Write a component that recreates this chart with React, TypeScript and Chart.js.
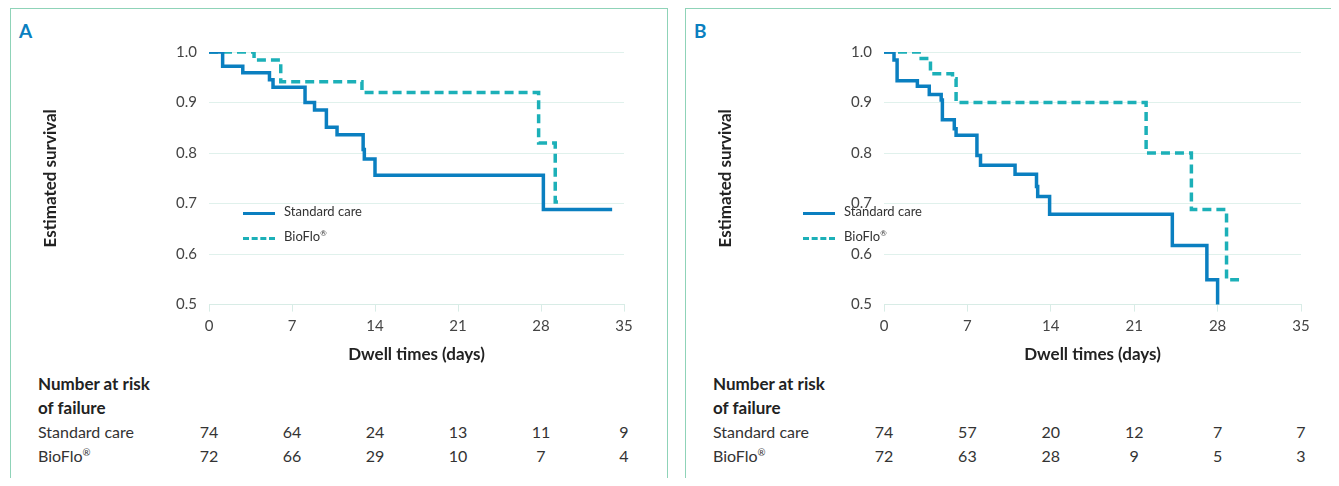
import React from 'react';
import Chart from 'chart.js/auto';

const xTicks = [0, 7, 14, 21, 28, 35];
const yTicks = [0.5, 0.6, 0.7, 0.8, 0.9, 1.0];

// panel A
const stdA_days = [0, 1.15, 2.85, 5.1, 5.4, 8.1, 8.9, 9.9, 10.8, 13.0, 13.1, 14.0, 28.2, 34];
const stdA_surv = [1.0, 0.972, 0.959, 0.945, 0.93, 0.9, 0.885, 0.851, 0.836, 0.807, 0.788, 0.756, 0.688, 0.688];
const bioA_days = [0, 3.8, 6.05, 12.9, 27.8, 29.2, 29.8];
const bioA_surv = [1.0, 0.984, 0.941, 0.92, 0.82, 0.703, 0.703];
const riskStdA = [74, 64, 24, 13, 11, 9];
const riskBioA = [72, 66, 29, 10, 7, 4];

// panel B
const stdB_days = [0, 0.84, 1.1, 2.8, 3.8, 4.8, 4.9, 5.9, 6.05, 7.8, 8.1, 11.0, 12.8, 12.9, 13.9, 24.2, 27.1, 28.0];
const stdB_surv = [1.0, 0.984, 0.943, 0.932, 0.916, 0.905, 0.866, 0.848, 0.835, 0.795, 0.776, 0.758, 0.734, 0.714, 0.679, 0.617, 0.549, 0.46];
const bioB_days = [0, 2.95, 3.9, 5.75, 6.05, 22.0, 25.8, 28.75, 29.8];
const bioB_surv = [1.0, 0.987, 0.957, 0.947, 0.9, 0.8, 0.688, 0.549, 0.549];
const riskStdB = [74, 57, 20, 12, 7, 7];
const riskBioB = [72, 63, 28, 9, 5, 3];

const STD = '#0a7fc0';
const BIO = '#1cb0b8';
const FONT = 'Lato, "Noto Sans", sans-serif';

const toPts = (d: number[], s: number[]) => d.map((x, i) => ({ x, y: s[i] }));

const PAD_L = 25;
const AXIS_W = 173;
const PAD_R = 42;

interface PanelProps {
  label: string;
  left: number;
  width: number;
  legendLeft: number;
  stdDays: number[];
  stdSurv: number[];
  bioDays: number[];
  bioSurv: number[];
  riskStd: number[];
  riskBio: number[];
}

const Panel: React.FC<PanelProps> = (p) => {
  const ref = React.useRef<HTMLCanvasElement>(null);
  React.useEffect(() => {
    if (!ref.current) return;
    const chart = new Chart(ref.current, {
      type: 'line',
      data: {
        datasets: [
          { data: toPts(p.stdDays, p.stdSurv), borderColor: STD, borderWidth: 3.5, stepped: 'before', pointRadius: 0, fill: false },
          { data: toPts(p.bioDays, p.bioSurv), borderColor: BIO, borderWidth: 3.5, borderDash: [9, 5], stepped: 'before', pointRadius: 0, fill: false },
        ],
      },
      options: {
        animation: false,
        responsive: false,
        layout: { padding: { left: PAD_L, right: PAD_R, top: 51, bottom: 0 } },
        plugins: { legend: { display: false }, tooltip: { enabled: false } },
        scales: {
          x: {
            type: 'linear', min: 0, max: 35,
            afterBuildTicks: (s: any) => { s.ticks = xTicks.map((v) => ({ value: v })); },
            grid: { drawOnChartArea: false, color: '#d8ece6', tickLength: 7 },
            border: { color: '#d8ece6' },
            ticks: { color: '#444', font: { family: FONT, size: 15 }, padding: 6 },
            title: { display: true, text: 'Dwell times (days)', color: '#222', font: { family: FONT, size: 17, weight: 'bold' }, padding: { top: 3 } },
          },
          y: {
            min: 0.5, max: 1.0,
            afterBuildTicks: (s: any) => { s.ticks = yTicks.map((v) => ({ value: v })); },
            afterFit: (s: any) => { s.width = AXIS_W; },
            grid: { color: '#e0f1ec', drawTicks: false },
            border: { display: false },
            ticks: { color: '#444', font: { family: FONT, size: 15 }, padding: 12, callback: (v: any) => Number(v).toFixed(1) },
            title: { display: true, text: 'Estimated survival', color: '#222', font: { family: FONT, size: 17, weight: 'bold' } },
          },
        },
      },
    });
    return () => chart.destroy();
  }, [p]);

  const plotW = p.width - 3 - PAD_L - AXIS_W - PAD_R;
  const tx = (v: number) => PAD_L + AXIS_W + (v / 35) * plotW;
  const txt: React.CSSProperties = { position: 'absolute', fontFamily: FONT, fontSize: 16, color: '#333', whiteSpace: 'nowrap' };
  const legLine = (dashed: boolean, color: string): React.CSSProperties => ({
    position: 'absolute', left: 0, top: 8, width: 32, height: 0,
    borderTop: `3.5px ${dashed ? 'dashed' : 'solid'} ${color}`,
  });
  const reg = <sup style={{ fontSize: '0.6em' }}>®</sup>;

  return (
    <div style={{ position: 'absolute', left: p.left, top: 8, width: p.width, height: 486, border: '1.5px solid #8fd3b8', boxSizing: 'border-box' }}>
      <div style={{ ...txt, left: 8, top: 10, fontSize: 19, fontWeight: 'bold', color: STD }}>{p.label}</div>
      <canvas ref={ref} width={p.width - 3} height={368} style={{ position: 'absolute', left: 0, top: -8 }} />
      <div style={{ position: 'absolute', left: p.legendLeft, top: 195 }}>
        <div style={legLine(false, STD)} />
        <div style={{ ...txt, left: 41, top: -1, fontSize: 13 }}>Standard care</div>
      </div>
      <div style={{ position: 'absolute', left: p.legendLeft, top: 220 }}>
        <div style={legLine(true, BIO)} />
        <div style={{ ...txt, left: 41, top: -1, fontSize: 13 }}>BioFlo{reg}</div>
      </div>
      <div style={{ ...txt, left: 27, top: 364, fontWeight: 'bold', fontSize: 17, color: '#222' }}>Number at risk</div>
      <div style={{ ...txt, left: 27, top: 388, fontWeight: 'bold', fontSize: 17, color: '#222' }}>of failure</div>
      <div style={{ ...txt, left: 27, top: 413 }}>Standard care</div>
      <div style={{ ...txt, left: 27, top: 437 }}>BioFlo{reg}</div>
      {xTicks.map((v, i) => (
        <React.Fragment key={v}>
          <div style={{ ...txt, left: tx(v) - 20, width: 40, textAlign: 'center', top: 413 }}>{p.riskStd[i]}</div>
          <div style={{ ...txt, left: tx(v) - 20, width: 40, textAlign: 'center', top: 437 }}>{p.riskBio[i]}</div>
        </React.Fragment>
      ))}
    </div>
  );
};

export default function App() {
  return (
    <div style={{ position: 'relative', width: 1339, height: 486, margin: -8, overflow: 'hidden', background: '#fff' }}>
      <Panel label="A" left={10} width={658} legendLeft={232} stdDays={stdA_days} stdSurv={stdA_surv} bioDays={bioA_days} bioSurv={bioA_surv} riskStd={riskStdA} riskBio={riskBioA} />
      <Panel label="B" left={685} width={660} legendLeft={117} stdDays={stdB_days} stdSurv={stdB_surv} bioDays={bioB_days} bioSurv={bioB_surv} riskStd={riskStdB} riskBio={riskBioB} />
    </div>
  );
}
